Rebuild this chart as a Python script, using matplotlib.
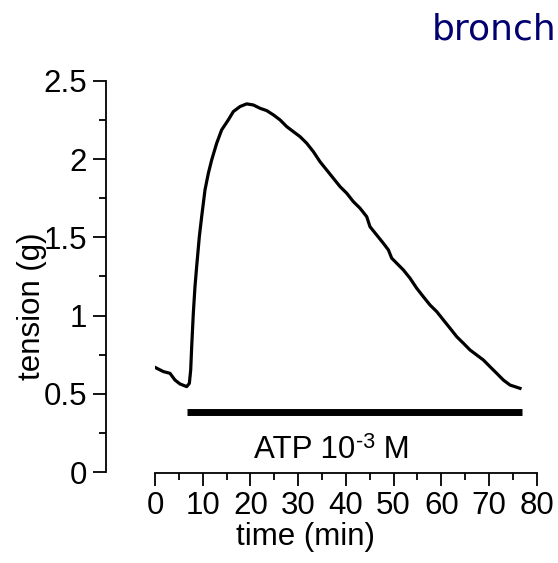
import matplotlib
matplotlib.use("Agg")
import matplotlib.pyplot as plt
from matplotlib.ticker import MultipleLocator

plt.rcParams['font.family'] = ['Liberation Sans', 'DejaVu Sans']

# Tension trace (g) against time (min)
time_min = [0.00, 1.75, 3.14, 4.19, 5.24, 6.64, 7.20, 7.48, 7.69, 8.03,
            8.38, 8.73, 9.29, 9.78, 10.48, 11.18, 11.88, 12.93, 13.97,
            15.37, 16.42, 17.82, 19.21, 20.61, 22.01, 23.41, 24.80, 26.20,
            27.60, 28.99, 30.39, 31.79, 33.19, 34.58, 35.98, 37.38, 38.78,
            40.17, 41.57, 42.97, 44.37, 45.06, 46.46, 47.86, 48.91, 49.61,
            50.65, 52.05, 53.45, 54.85, 56.24, 57.64, 59.04, 60.43, 61.83,
            63.23, 64.63, 66.02, 67.42, 68.82, 70.22, 71.61, 73.01, 74.41,
            76.50]
tension_g = [0.670, 0.643, 0.632, 0.589, 0.564, 0.547, 0.568, 0.653, 0.802,
             1.015, 1.185, 1.313, 1.504, 1.632, 1.803, 1.909, 1.994, 2.101,
             2.186, 2.250, 2.303, 2.335, 2.352, 2.345, 2.324, 2.309, 2.282,
             2.250, 2.207, 2.175, 2.143, 2.101, 2.047, 1.983, 1.930, 1.877,
             1.824, 1.782, 1.728, 1.686, 1.632, 1.568, 1.515, 1.462, 1.420,
             1.367, 1.335, 1.292, 1.239, 1.175, 1.121, 1.068, 1.026, 0.973,
             0.920, 0.866, 0.824, 0.781, 0.749, 0.717, 0.674, 0.632, 0.589,
             0.557, 0.536]

# ATP application period
atp_start, atp_end, atp_level = 6.8, 77.0, 0.383

W, H = 558, 563
FS = 22.5
fig = plt.figure(figsize=(W / 100, H / 100), dpi=100)
ax = fig.add_axes([155 / W, 1 - 472.3 / H, (536.7 - 155) / W, (472.3 - 80.7) / H])

ax.plot(time_min, tension_g, color='black', lw=2.3, solid_joinstyle='round')
ax.plot([atp_start, atp_end], [atp_level, atp_level], color='black', lw=5,
        solid_capstyle='butt')

ax.set_xlim(0, 80)
ax.set_ylim(0, 2.5)
ax.xaxis.set_major_locator(MultipleLocator(10))
ax.xaxis.set_minor_locator(MultipleLocator(5))
ax.yaxis.set_major_locator(MultipleLocator(0.5))
ax.yaxis.set_minor_locator(MultipleLocator(0.25))
ax.set_yticks([0, 0.5, 1, 1.5, 2, 2.5])
ax.set_yticklabels(['0', '0.5', '1', '1.5', '2', '2.5'])

for s in ['top', 'right']:
    ax.spines[s].set_visible(False)
ax.spines['left'].set_position(('outward', 49 * 0.72))
ax.spines['bottom'].set_position(('outward', 1 * 0.72))
for s in ['left', 'bottom']:
    ax.spines[s].set_linewidth(1.3)

ax.tick_params(which='major', length=9.5, width=1.3, labelsize=FS, pad=4)
ax.tick_params(which='minor', length=5, width=1.3)
ax.tick_params(axis='x', which='major', pad=3)

fig.text(32 / W, 1 - 306 / H, 'tension (g)', rotation=90, ha='center',
         va='center', fontsize=FS)
fig.text(306 / W, 1 - 537 / H, 'time (min)', ha='center', va='center',
         fontsize=FS)

# "ATP 10^-3 M" laid out piece by piece so the exponent keeps a short hyphen
base_y = 1 - 458 / H
t1 = fig.text(254 / W, base_y, 'ATP 10', ha='left', va='baseline', fontsize=FS)
fig.canvas.draw()
renderer = fig.canvas.get_renderer()
x1 = t1.get_window_extent(renderer).x1
t2 = fig.text((x1 + 1) / W, base_y + 10 / H, '-3', ha='left', va='baseline',
              fontsize=15.5)
fig.canvas.draw()
x2 = t2.get_window_extent(renderer).x1
fig.text(x2 / W, base_y, ' M', ha='left', va='baseline', fontsize=FS)

fig.text(432 / W, 1 - 40 / H, 'bronch', ha='left', va='baseline',
         fontsize=26, color='#00006e', family=['DejaVu Sans'])

fig.savefig('out.png', dpi=100)
